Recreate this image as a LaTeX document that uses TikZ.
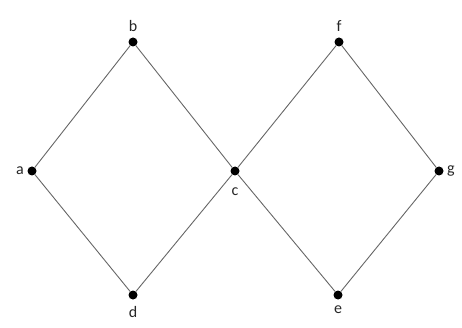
\documentclass[tikz,border=0pt]{standalone}
\usepackage{fontspec}
\setmainfont{Carlito}
\usetikzlibrary{positioning}

\begin{document}
\begin{tikzpicture}[
  x=1pt, y=-1pt,
  vertex/.style={circle, fill=black, inner sep=0pt, minimum width=8pt, minimum height=9pt},
  vlabel/.style={font=\fontsize{16}{19}\selectfont, text=black!85},
  edge/.style={draw=black!60, line width=0.9pt}
]
\useasboundingbox (0,0) rectangle (462,328);

\node[vertex, label={[vlabel, label distance=2pt]above:b}] (b) at (133,42) {};
\node[vertex, label={[vlabel, label distance=2pt]above:f}] (f) at (339,42) {};
\node[vertex, label={[vlabel, label distance=0pt]left:a}] (a) at (32,171) {};
\node[vertex, label={[vlabel, label distance=9pt]below:c}] (c) at (235,171) {};
\node[vertex, label={[vlabel, label distance=0pt]right:g}] (g) at (439,171) {};
\node[vertex, label={[vlabel, label distance=3pt]below:d}] (d) at (133,295) {};
\node[vertex, label={[vlabel, label distance=3pt]below:e}] (e) at (338,295) {};

\draw[edge] (a) -- (b);
\draw[edge] (b) -- (c);
\draw[edge] (a) -- (d);
\draw[edge] (d) -- (c);
\draw[edge] (c) -- (f);
\draw[edge] (f) -- (g);
\draw[edge] (c) -- (e);
\draw[edge] (e) -- (g);
\end{tikzpicture}
\end{document}
